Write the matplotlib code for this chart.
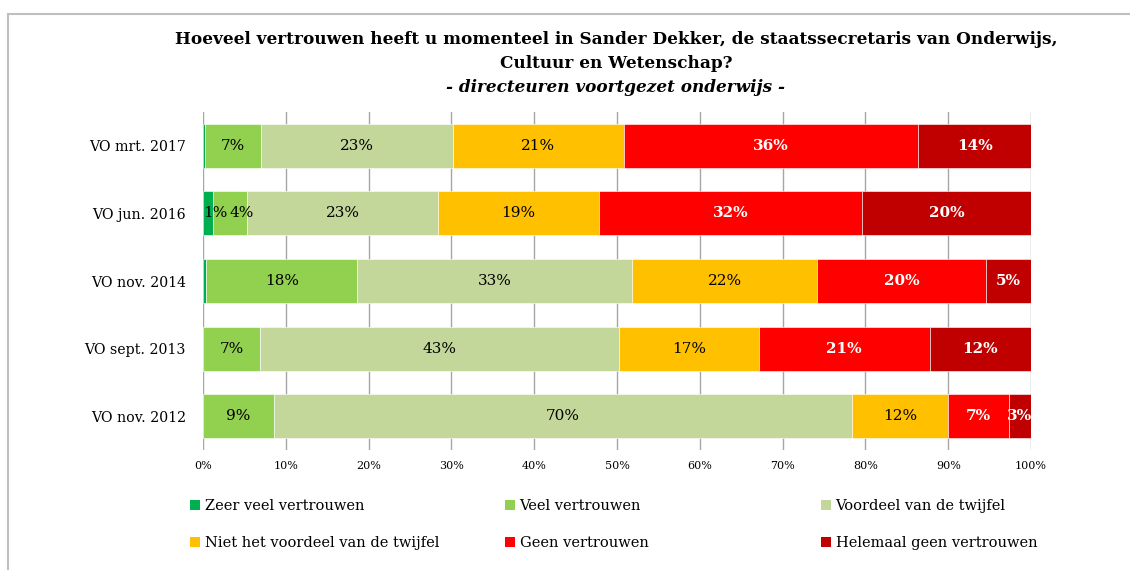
import matplotlib.pyplot as plt
from matplotlib.patches import Patch
from matplotlib.lines import Line2D

# categories top to bottom
waves = ["VO mrt. 2017", "VO jun. 2016", "VO nov. 2014", "VO sept. 2013", "VO nov. 2012"]

series = ["Zeer veel vertrouwen", "Veel vertrouwen", "Voordeel van de twijfel",
          "Niet het voordeel van de twijfel", "Geen vertrouwen", "Helemaal geen vertrouwen"]
colors = ["#00B050", "#92D050", "#C4D79B", "#FFC000", "#FF0000", "#C00000"]

zeer_veel = [0.3, 1.2, 0.4, 0.0, 0.0]
veel = [6.7, 4.1, 18.2, 6.9, 8.6]
voordeel = [23.2, 23.1, 33.2, 43.4, 69.8]
niet_voordeel = [20.6, 19.4, 22.4, 16.8, 11.6]
geen = [35.6, 31.8, 20.4, 20.7, 7.3]
helemaal_geen = [13.6, 20.4, 5.4, 12.2, 2.7]

data = [zeer_veel, veel, voordeel, niet_voordeel, geen, helemaal_geen]
xticks = [0, 10, 20, 30, 40, 50, 60, 70, 80, 90, 100]

serif = "DejaVu Serif"

fig = plt.figure(figsize=(11.3, 5.7), dpi=100)
ax = fig.add_axes([203 / 1130, 1 - 450 / 570, 828 / 1130, 338 / 570])

y = list(range(len(waves)))
left = [0.0] * len(waves)
row_texts = [[] for _ in waves]
for i, vals in enumerate(data):
    ax.barh(y, vals, left=left, height=0.65, color=colors[i], edgecolor="white",
            linewidth=0.4, zorder=2)
    for j, v in enumerate(vals):
        if v >= 1:
            white = i >= 4
            t = ax.text(left[j] + v / 2, y[j], f"{v:.0f}%", ha="center", va="center",
                        fontsize=11, family=serif, color="white" if white else "black",
                        fontweight="bold" if white else "normal", zorder=3)
            row_texts[j].append(t)
    left = [a + b for a, b in zip(left, vals)]

ax.set_xlim(0, 100)
ax.set_ylim(len(waves) - 0.5, -0.5)
ax.set_xticks(xticks)
ax.set_xticklabels([f"{t}%" for t in xticks], fontsize=8, family=serif)
ax.set_yticks(y)
ax.set_yticklabels(waves, fontsize=10.2, family=serif)
ax.tick_params(axis="x", length=0, pad=8)
ax.tick_params(axis="y", length=0, pad=12.3)
ax.xaxis.grid(True, color="#A6A6A6", linewidth=1, zorder=0)
ax.set_axisbelow(True)
for s in ax.spines.values():
    s.set_visible(False)

# push crowded labels apart (small segments at the left edge)
renderer = fig.canvas.get_renderer()
inv = ax.transData.inverted()
for texts in row_texts:
    prev_end = ax.transData.transform((0, 0))[0] - 2
    for t in texts:
        bb = t.get_window_extent(renderer)
        shift = max(0, prev_end + 2 - bb.x0)
        if shift > 0:
            x_disp = ax.transData.transform(t.get_position())[0] + shift
            t.set_x(inv.transform((x_disp, 0))[0])
        prev_end = bb.x1 + shift

# title
fig.text(616 / 1130, 1 - 40 / 570,
         "Hoeveel vertrouwen heeft u momenteel in Sander Dekker, de staatssecretaris van Onderwijs,",
         ha="center", va="center", fontsize=12.2, fontweight="bold", family=serif)
fig.text(616 / 1130, 1 - 63 / 570, "Cultuur en Wetenschap?",
         ha="center", va="center", fontsize=12.2, fontweight="bold", family=serif)
fig.text(616 / 1130, 1 - 87 / 570, "- directeuren voortgezet onderwijs -",
         ha="center", va="center", fontsize=12.2, fontweight="bold", style="italic", family=serif)

# frame lines
fig.add_artist(Line2D([8 / 1130, 1], [1 - 14 / 570] * 2, color="#BFBFBF", lw=1.5))
fig.add_artist(Line2D([8 / 1130] * 2, [0, 1 - 14 / 570], color="#BFBFBF", lw=1.5))

# legend: three columns, two rows each
col_x = [190, 505, 821]
for c in range(3):
    handles = [Patch(facecolor=colors[c]), Patch(facecolor=colors[c + 3])]
    labels = [series[c], series[c + 3]]
    fig.legend(handles, labels, loc="upper left",
               bbox_to_anchor=(col_x[c] / 1130, 1 - 499 / 570), frameon=False,
               prop={"family": serif, "size": 10.5}, handlelength=0.7, handleheight=0.7,
               handletextpad=0.3, labelspacing=1.58, borderpad=0, borderaxespad=0)

fig.savefig("out.png", dpi=100)
